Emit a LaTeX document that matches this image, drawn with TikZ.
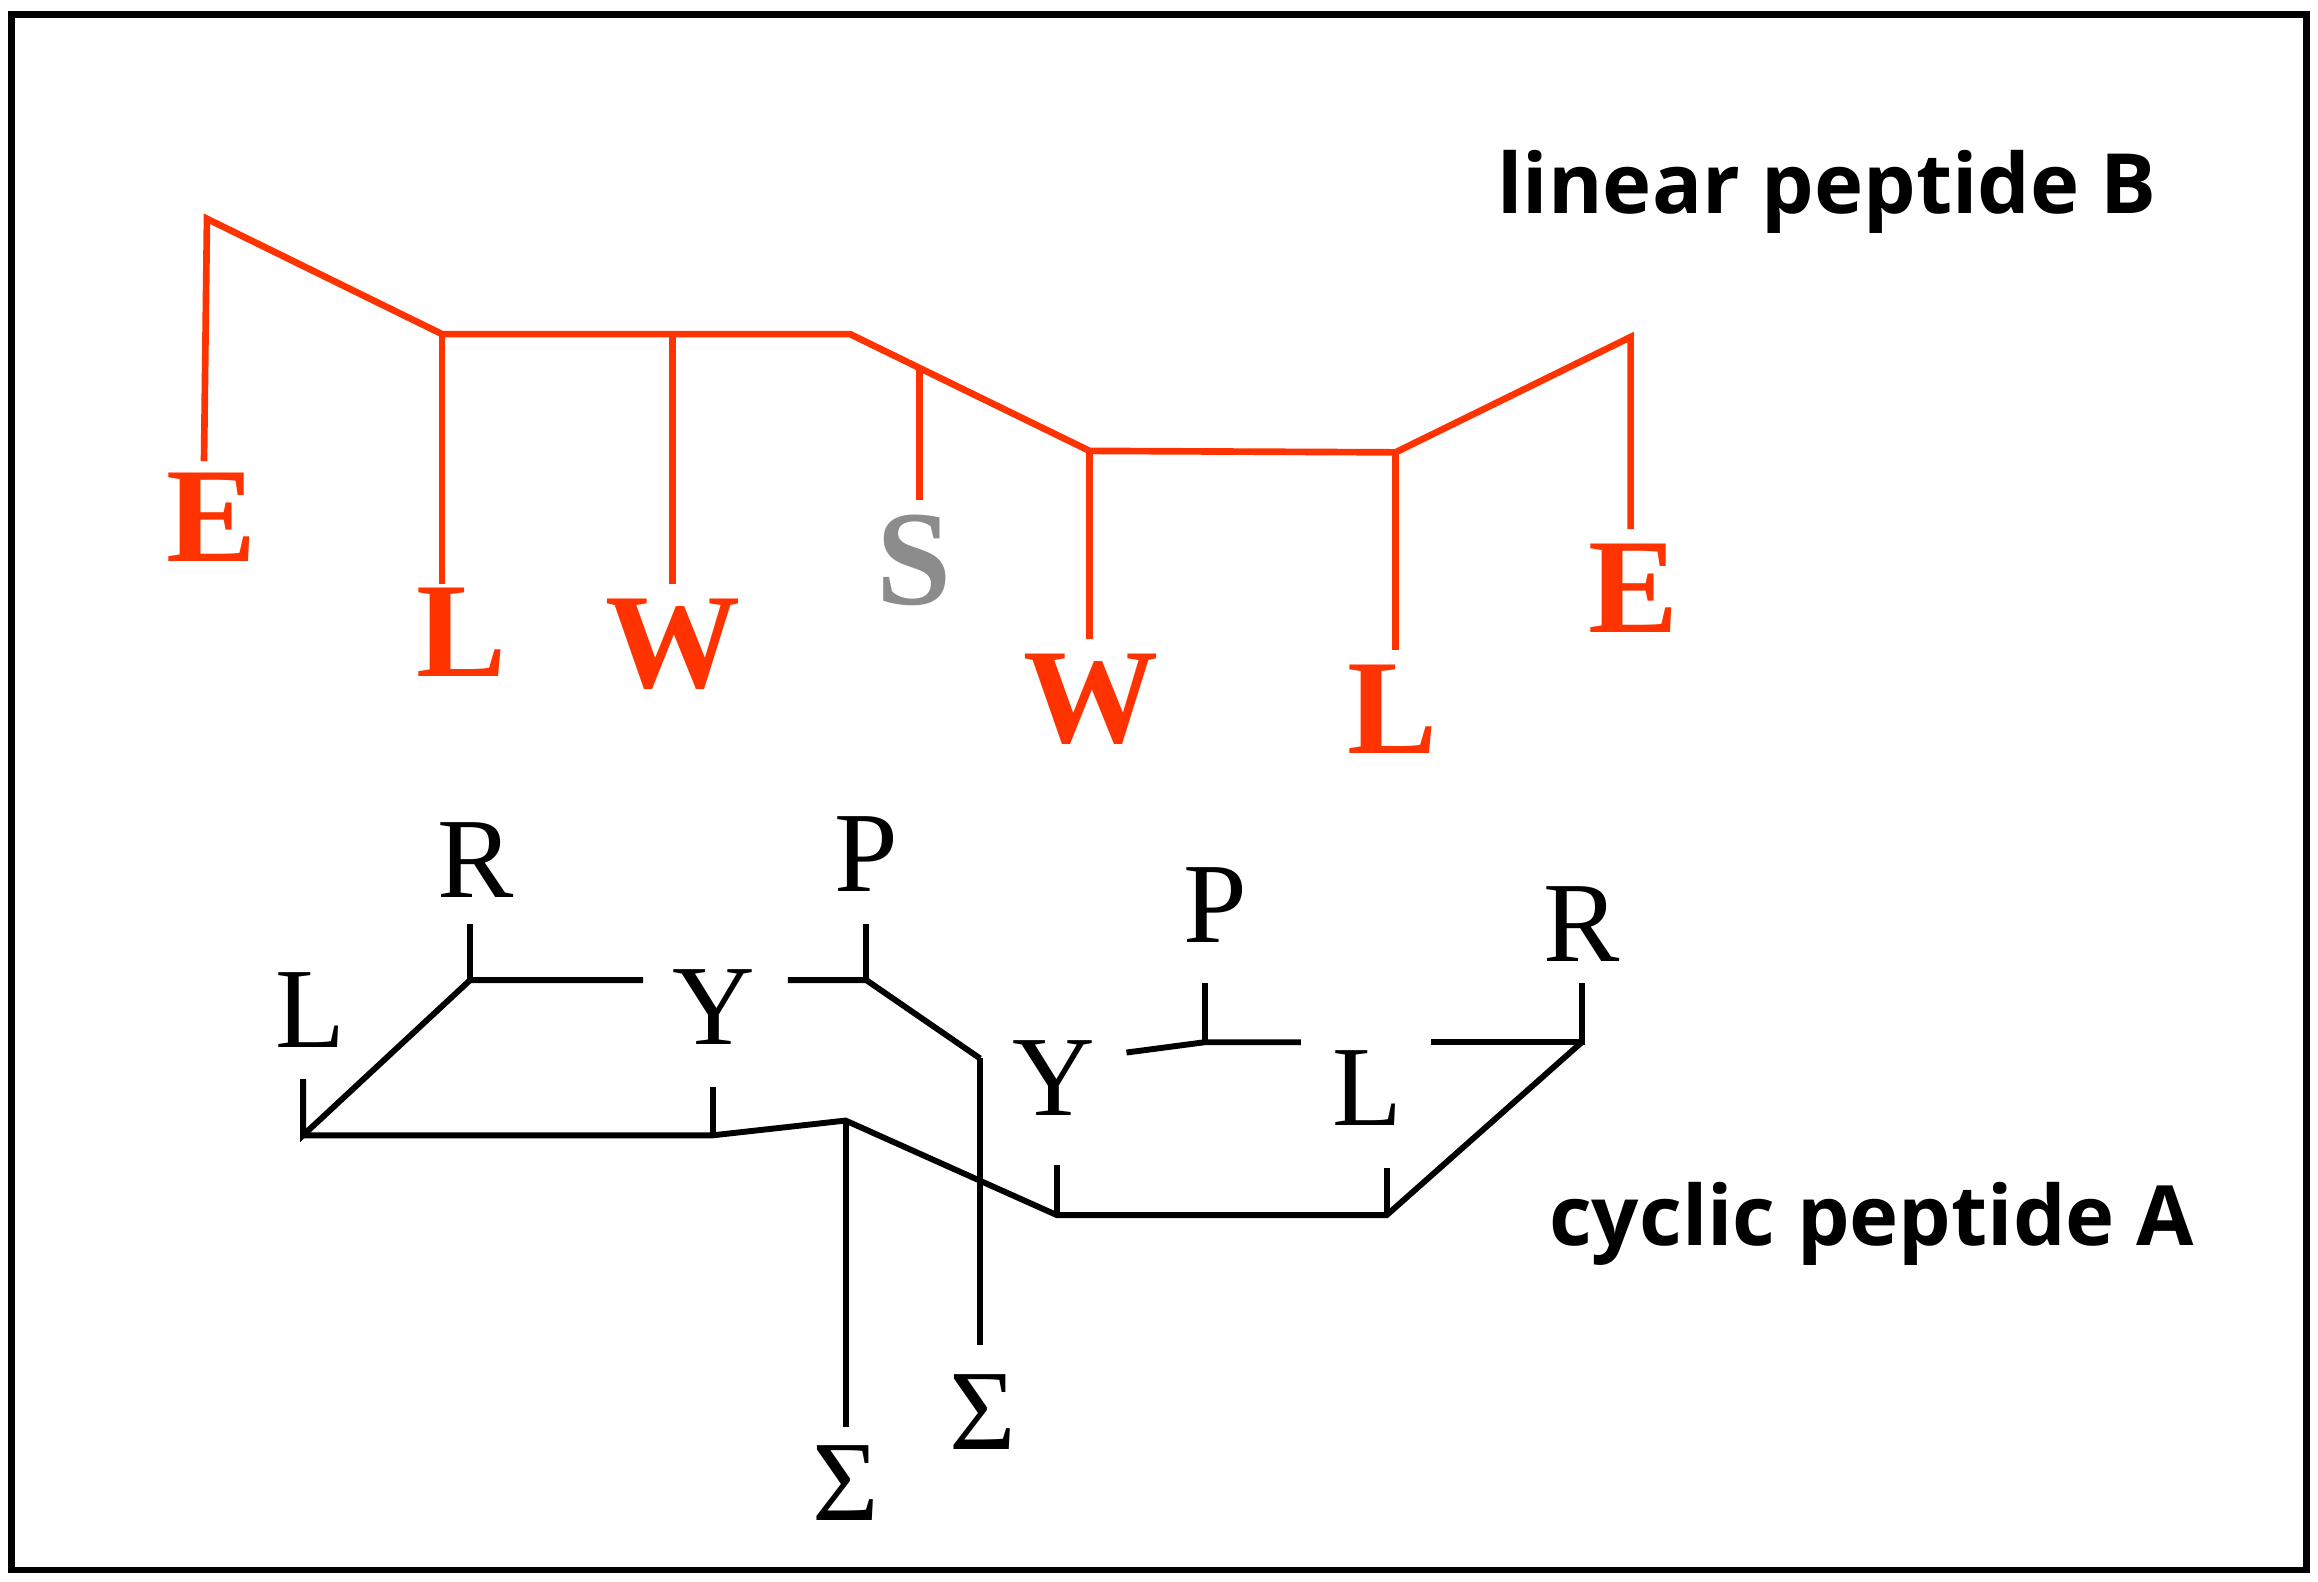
\documentclass[tikz,border=0pt]{standalone}
\usepackage{fontspec}
\newfontfamily\sansf{Open Sans}
\newfontfamily\serf{Liberation Serif}
\begin{document}
\begin{tikzpicture}[x=0.01cm,y=-0.01cm,
  red/.style={draw={rgb,255:red,255;green,51;blue,0},line width=0.045cm},
  blk/.style={draw=black,line width=0.04cm},
  rl/.style={text={rgb,255:red,255;green,51;blue,0},font=\serf\fontsize{26}{26}\selectfont\bfseries,inner sep=0},
  gl/.style={text={rgb,255:red,140;green,140;blue,140},font=\serf\fontsize{26}{26}\selectfont\bfseries,inner sep=0},
  bl/.style={font=\serf\fontsize{22}{22}\selectfont,inner sep=0},
  tl/.style={font=\sansf\fontsize{16}{16}\selectfont\bfseries,inner sep=0}]
\useasboundingbox (0,0) rectangle (1568,1070);
\draw[line width=0.045cm] (8,10) rectangle (1560,1062);
% red chain
\coordinate (a0) at (140,148); \coordinate (a1) at (299,226); \coordinate (a2) at (575,226);
\coordinate (a3) at (737,305); \coordinate (a4) at (944,306); \coordinate (a5) at (1103,228);
\coordinate (aW1) at (455,226); \coordinate (aS) at (622,250);
\draw[red] (138,312) -- (a0) -- (a1) -- (a2) -- (a3) -- (a4) -- (a5) -- (1103,358);
\draw[red] (a1) -- (299,395);
\draw[red] (aW1) -- (455,395);
\draw[red] (aS) -- (622,338);
\draw[red] (a3) -- (737,432);
\draw[red] (a4) -- (944,440);
\node[rl] (e1) at (143,350) {E};
\node[rl] (l1) at (312,428) {L};
\node[rl] (w1) at (455,436) {W};
\node[gl] (s) at (618,379) {S};
\node[rl] (w2) at (738,473) {W};
\node[rl] (l2) at (942,480) {L};
\node[rl] (e2) at (1105,398) {E};
\node[tl] (tb) at (1236,130) {linear peptide B};
% cyclic
\node[bl] (L1) at (210,683) {L};
\node[bl] (R1) at (322,582) {R};
\node[bl] (Y1) at (483,681) {Y};
\node[bl] (P1) at (586,578) {P};
\node[bl] (Y2) at (713,729) {Y};
\node[bl] (P2) at (822,612) {P};
\node[bl] (L2) at (925,736) {L};
\node[bl] (R2) at (1070,625) {R};
\node[bl] (S1) at (665,955) {Σ};
\node[bl] (S2) at (572,1003) {Σ};
\node[tl] (ta) at (1266,828) {cyclic peptide A};
\coordinate (c0) at (205,768); \coordinate (c1) at (318,663); \coordinate (c2) at (586,663);
\coordinate (c3) at (815,705); \coordinate (c4) at (1070,705); \coordinate (c5) at (938,822);
\coordinate (c6) at (715,822); \coordinate (c7) at (572,758); \coordinate (c8) at (482,768);
\draw[blk] (205,730) -- (c0) -- (c1) -- (435,663);
\draw[blk] (c1) -- (318,625);
\draw[blk] (533,663) -- (c2) -- (663,716);
\draw[blk] (c2) -- (586,625);
\draw[blk] (762,712) -- (c3) -- (880,705);
\draw[blk] (c3) -- (815,665);
\draw[blk] (968,705) -- (c4) -- (1070,665);
\draw[blk] (c4) -- (c5) -- (c6) -- (c7) -- (c8) -- (c0);
\draw[blk] (c8) -- (482,735);
\draw[blk] (c6) -- (715,788);
\draw[blk] (c5) -- (938,790);
\draw[blk] (c7) -- (572,965);
\draw[blk] (663,716) -- (663,910);
\end{tikzpicture}
\end{document}
